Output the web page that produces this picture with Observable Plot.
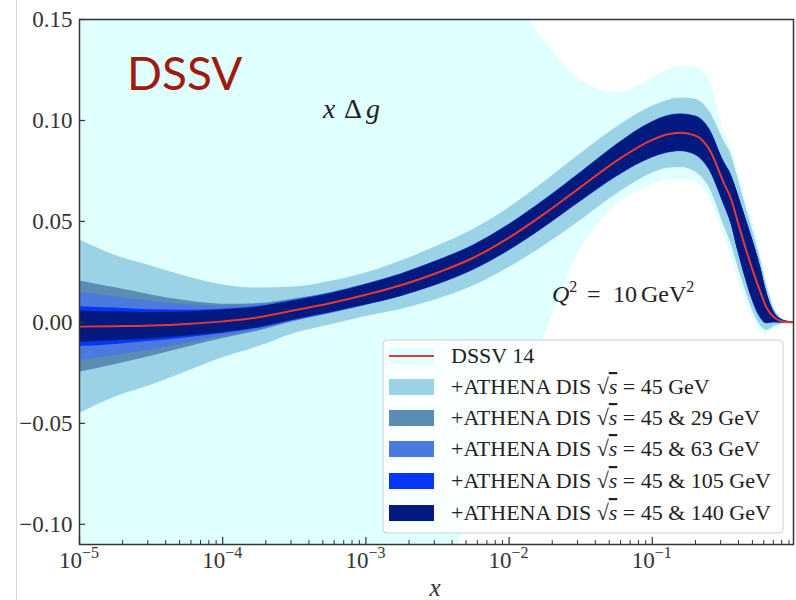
<!DOCTYPE html>
<html><head><meta charset="utf-8">
<script src="https://cdn.jsdelivr.net/npm/d3@7"></script>
<script src="https://cdn.jsdelivr.net/npm/@observablehq/plot@0.6"></script>
<style>
html,body{margin:0;padding:0;background:#fff;}
#wrap{position:relative;width:796px;height:600px;overflow:hidden;}
#edge{position:absolute;left:16px;top:0;width:1px;height:600px;background:#d6d6d6;}
svg text{font-family:"Liberation Serif",serif;}
</style></head><body><div id="wrap"></div>
<script>
// x grid (Bjorken x)
const xs = [1e-5, 1.78e-5, 3.16e-5, 5.62e-5, 1e-4, 1.78e-4, 3.16e-4, 5.62e-4, 1e-3, 1.78e-3, 3.16e-3, 5.62e-3,
  0.01, 0.0178, 0.0316, 0.0562, 0.1, 0.126, 0.158, 0.2, 0.251, 0.316, 0.355, 0.398, 0.447, 0.501, 0.562, 0.631, 0.708, 0.794, 0.891, 0.97];
// DSSV14 central x Δg
const central = [-0.0021, -0.0019, -0.0016, -0.0008, 0.0005, 0.0025, 0.0060, 0.0095, 0.0137, 0.0185, 0.0246, 0.032,
  0.042, 0.054, 0.067, 0.080, 0.0904, 0.0930, 0.0939, 0.0925, 0.0855, 0.069, 0.061, 0.049, 0.037, 0.026, 0.016, 0.007, 0.0025, 0.0006, 0.0001, 0.0];
// DSSV14 original uncertainty band
const dssvLo = [-0.2, -0.2, -0.2, -0.2, -0.2, -0.2, -0.2, -0.2, -0.2, -0.2, -0.14, -0.09,
  -0.05, -0.006, 0.036, 0.058, 0.068, 0.0705, 0.0708, 0.070, 0.061, 0.043, 0.033, 0.021, 0.011, 0.002, -0.004, -0.006, -0.003, -0.001, -0.0005, -0.0004];
const dssvHi = [0.2, 0.2, 0.2, 0.2, 0.2, 0.2, 0.2, 0.2, 0.2, 0.2, 0.2, 0.19,
  0.165, 0.139, 0.120, 0.1136, 0.121, 0.125, 0.1267, 0.1265, 0.120, 0.095, 0.087, 0.074, 0.061, 0.050, 0.036, 0.020, 0.008, 0.0025, 0.001, 0.0005];
// half-widths of the ATHENA bands
const hw45 = [0.043, 0.035, 0.0295, 0.0235, 0.018, 0.0145, 0.0115, 0.0108, 0.0108, 0.012, 0.0132, 0.014,
  0.0148, 0.0158, 0.0165, 0.0166, 0.0166, 0.0168, 0.0172, 0.018, 0.019, 0.021, 0.022, 0.022, 0.021, 0.020, 0.017, 0.011, 0.0045, 0.0015, 0.0005, 0.0003];
const hw29 = [0.0226, 0.0190, 0.0152, 0.0115, 0.0085, 0.0068, 0.0056, 0.0052, 0.0053, 0.0057, 0.0061, 0.0063,
  0.0066, 0.0069, 0.0073, 0.0081, 0.0090, 0.0093, 0.0094, 0.0098, 0.0103, 0.0108, 0.0123, 0.0143, 0.0153, 0.0153, 0.0133, 0.0078, 0.0028, 0.0009, 0.0003, 0.0002];
const hw63 = [0.0170, 0.0145, 0.0120, 0.0095, 0.0075, 0.0062, 0.0053, 0.0050, 0.0052, 0.0056, 0.0060, 0.0062,
  0.0065, 0.0068, 0.0072, 0.0080, 0.0089, 0.0092, 0.0093, 0.0097, 0.0102, 0.0107, 0.0122, 0.0142, 0.0152, 0.0152, 0.0132, 0.0077, 0.0027, 0.0009, 0.0003, 0.0002];
const hw105 = [0.0099, 0.0090, 0.0078, 0.0068, 0.0060, 0.0054, 0.0049, 0.0048, 0.0051, 0.0055, 0.0059, 0.0061,
  0.0064, 0.0067, 0.0071, 0.0079, 0.0088, 0.0091, 0.0092, 0.0096, 0.0101, 0.0106, 0.0121, 0.0141, 0.0151, 0.0151, 0.0131, 0.0076, 0.0026, 0.0009, 0.0003, 0.0002];
const hw140 = [0.0078, 0.0072, 0.0066, 0.0060, 0.0056, 0.0051, 0.0047, 0.0046, 0.0050, 0.0054, 0.0058, 0.0060,
  0.0063, 0.0066, 0.0070, 0.0078, 0.0087, 0.0090, 0.0091, 0.0095, 0.0100, 0.0105, 0.012, 0.014, 0.015, 0.015, 0.013, 0.0075, 0.0025, 0.0008, 0.0003, 0.0002];

const seriesLabels = ["DSSV 14", "45", "45 & 29", "45 & 63", "45 & 105", "45 & 140"];
const bandColors = ["#e0ffff", "#9cd2e6", "#5b8cb4", "#4b79dd", "#0636f7", "#021a80"];
const lineColor = "#e43a34";
const yTicks = [-0.10, -0.05, 0.00, 0.05, 0.10, 0.15];
const xMajor = [1e-5, 1e-4, 1e-3, 1e-2, 1e-1];
const xMajorExp = ["−5", "−4", "−3", "−2", "−1"];
const xMinor = [];
for (const d of [1e-5, 1e-4, 1e-3, 1e-2, 1e-1]) for (let k = 2; k <= 9; k++) xMinor.push(k * d);

const rows = xs.map((x, i) => ({x, c: central[i], lo: dssvLo[i], hi: dssvHi[i],
  w: [hw45[i], hw29[i], hw63[i], hw105[i], hw140[i]]}));

const band = (k) => Plot.areaY(rows, {x: "x", y1: d => d.c - d.w[k], y2: d => d.c + d.w[k],
  fill: bandColors[k + 1], curve: "monotone-x", clip: true});

const chart = Plot.plot({
  width: 796, height: 600,
  marginLeft: 79, marginRight: 3, marginTop: 19, marginBottom: 56,
  x: {type: "log", domain: [1e-5, 0.968], axis: null},
  y: {domain: [-0.11, 0.15]},
  style: {fontFamily: "Liberation Serif", fontSize: "23px", color: "#333", background: "white"},
  marks: [
    Plot.areaY(rows, {x: "x", y1: "lo", y2: "hi", fill: bandColors[0], curve: "monotone-x", clip: true}),
    band(0), band(1), band(2), band(3), band(4),
    Plot.line(rows, {x: "x", y: "c", stroke: lineColor, strokeWidth: 2, curve: "monotone-x", clip: true}),
    Plot.frame({stroke: "#333", strokeWidth: 1.5}),
    Plot.axisY({ticks: yTicks, tickSize: 0, tickPadding: 7, label: null,
      tickFormat: d => (d < 0 ? "−" : "") + Math.abs(d).toFixed(2)}),
    Plot.tickY(yTicks, {y: d => d, insetRight: 714 - 6, stroke: "#333", strokeWidth: 1.2}),
    Plot.tickX(xMajor, {x: d => d, insetTop: 525 - 7, stroke: "#333", strokeWidth: 1.2}),
    Plot.tickX(xMinor, {x: d => d, insetTop: 525 - 4, stroke: "#333", strokeWidth: 1})
  ]
});

const wrap = document.getElementById("wrap");
wrap.appendChild(chart);
const edge = document.createElement("div"); edge.id = "edge"; wrap.appendChild(edge);

const svg = d3.select(chart);
const sx = chart.scale("x");

// x tick labels with superscripts
xMajor.forEach((v, i) => {
  const t = svg.append("text").attr("x", sx.apply(v)).attr("y", 568).attr("text-anchor", "middle")
    .attr("fill", "#333").attr("font-size", 23);
  t.append("tspan").text("10");
  t.append("tspan").attr("font-size", 16).attr("dy", -10).text(xMajorExp[i]);
});

// x axis label
svg.append("text").attr("x", 435).attr("y", 596).attr("text-anchor", "middle")
  .attr("font-size", 25).attr("font-style", "italic").attr("fill", "#333").text("x");

// DSSV label
svg.append("text").attr("x", 127).attr("y", 90).attr("text-anchor", "start").attr("fill", "#9e1b0e")
  .style("font-family", "Lato, sans-serif").attr("font-size", 46).text("DSSV");

// x Δg
{
  const t = svg.append("text").attr("y", 118).attr("text-anchor", "start")
    .attr("font-size", 28).attr("fill", "#222");
  t.append("tspan").attr("x", 323).attr("font-style", "italic").text("x");
  t.append("tspan").attr("x", 344).text("Δ");
  t.append("tspan").attr("x", 366).attr("font-style", "italic").text("g");
}
// Q^2 = 10 GeV^2
{
  const t = svg.append("text").attr("y", 302).attr("text-anchor", "start")
    .attr("font-size", 24).attr("fill", "#222");
  t.append("tspan").attr("x", 552).attr("font-style", "italic").text("Q");
  t.append("tspan").attr("font-size", 16).attr("dy", -10).text("2");
  t.append("tspan").attr("x", 587).attr("dy", 10).text("=");
  t.append("tspan").attr("x", 613).text("10");
  t.append("tspan").attr("x", 641).text("GeV");
  t.append("tspan").attr("font-size", 16).attr("dy", -10).text("2");
}

// legend
const lg = svg.append("g").attr("text-anchor", "start");
lg.append("rect").attr("x", 383).attr("y", 340).attr("width", 400).attr("height", 193).attr("rx", 4)
  .attr("fill", "white").attr("fill-opacity", 0.82).attr("stroke", "#cfcfcf").attr("stroke-width", 1);
const rowY = [356, 387, 418, 449, 481, 513];
seriesLabels.forEach((lab, i) => {
  const cy = rowY[i];
  lg.append("rect").attr("x", 389).attr("y", cy - 8).attr("width", 45).attr("height", 16).attr("fill", bandColors[i]);
  if (i === 0) {
    lg.append("line").attr("x1", 389).attr("x2", 434).attr("y1", cy).attr("y2", cy)
      .attr("stroke", lineColor).attr("stroke-width", 2);
  }
  const t = lg.append("text").attr("x", 451).attr("y", cy + 7).attr("text-anchor", "start")
    .attr("font-size", 22).attr("fill", "#222");
  if (i === 0) { t.text(lab); return; }
  t.append("tspan").text("+ATHENA DIS ");
  t.append("tspan").text("√");
  t.append("tspan").attr("font-style", "italic").style("text-decoration", "overline").text("s");
  t.append("tspan").text(" = " + lab + " GeV");
});
</script></body></html>
